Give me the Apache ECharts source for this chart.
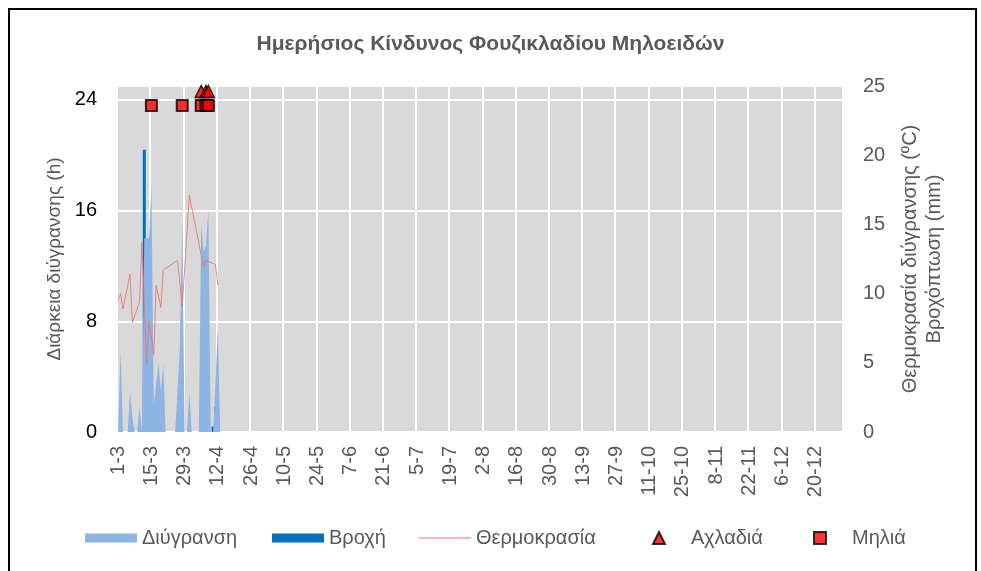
<!DOCTYPE html>
<html>
<head>
<meta charset="utf-8">
<script src="https://cdn.jsdelivr.net/npm/echarts@6/dist/echarts.min.js"></script>
<style>
  body { margin: 0; background: #fff; }
  #frame { position: absolute; left: 8px; top: 8px; width: 965px; height: 620px; border: 2px solid #000; }
  #main { position: absolute; left: 0; top: 0; width: 981px; height: 571px; }
</style>
</head>
<body>
<div id="frame"></div>
<div id="main"></div>
<script>
const FONT = '"Liberation Sans", Arial, sans-serif'

// ημέρες 1-3 έως 31-12
const monthDays = [31, 30, 31, 30, 31, 31, 30, 31, 30, 31]
const days = []
monthDays.forEach((n, i) => {
  for (let d = 1; d <= n; d++) days.push(d + '-' + (i + 3))
})

// Διύγρανση (h), από 1-3
const wetness = [0, 5.9, 0, 0, 0, 2.9, 1.0, 0, 0, 1.8,
  0, 14, 14, 14, 17.8, 2.0, 3.5, 5.0, 2.9, 4.9,
  0, 0, 0, 0, 0, 2.9, 6.1, 15.3, 0, 0,
  2.9, 0, 0, 0, 0, 15, 13, 13.5, 16, 0,
  0, 3.5, 7.7, 0]
// Βροχή (mm)
const rain = [0, 0, 0, 0, 0, 0, 0, 0, 0, 0,
  0, 20.4, 5.8, 0, 0, 0, 0, 0, 0, 0.3,
  0, 0, 0, 0, 0, 0, 0, 0, 0, 0,
  0.3, 0, 0, 0, 0, 0, 0, 0, 0, 0,
  0.4, 1.8]
// Θερμοκρασία (ºC)
const temp = [9.5, 10.0, 8.9, null, null, 11.4, 7.9, null, null, 9.4,
  13.7, null, 4.9, 8.0, null, 5.6, 10.6, null, 9.0, 11.7,
  null, null, null, null, null, 12.4, null, 9.1, null, null,
  17.1, null, null, null, null, null, 11.9, 12.4, null, null,
  null, 12.1, 10.6]
// κίνδυνος: ημέρα (index) και θέση
const pearDays = [35, 37, 38]
const pearLevel = 24.6
const appleDays = [14, 27, 35, 37, 38]
const appleLevel = 23.6

function pad(arr) {
  return days.map((d, i) => (i < arr.length ? arr[i] : null))
}
function marks(list, level) {
  return list.map(i => [days[i], level])
}
// ένα υπόμνημα για κάθε σειρά, για να μπουν στις θέσεις του excel
function legendItem(name, icon, left, w, h, gap) {
  return {
    left: left,
    top: 528,
    padding: 0,
    itemWidth: w,
    itemHeight: h,
    textStyle: { fontSize: 20, color: '#595959', fontFamily: FONT, padding: [0, 0, 0, gap || 0] },
    data: [{ name: name, icon: icon }]
  }
}

const chart = echarts.init(document.getElementById('main'))
const option = {
  animation: false,
  textStyle: { fontFamily: FONT },
  title: {
    text: 'Ημερήσιος Κίνδυνος Φουζικλαδίου Μηλοειδών',
    left: 'center',
    top: 29,
    textStyle: { fontSize: 21, fontWeight: 'bold', color: '#595959', fontFamily: FONT }
  },
  grid: {
    left: 117,
    right: 138,
    top: 86,
    bottom: 139,
    show: true,
    backgroundColor: '#D9D9D9',
    borderWidth: 0
  },
  legend: [
    legendItem('Διύγρανση', 'rect', 85, 52, 9),
    legendItem('Βροχή', 'rect', 272, 52, 9),
    legendItem('Θερμοκρασία', 'rect', 419, 52, 1.5),
    legendItem('Αχλαδιά', 'triangle', 652, 12, 12, 21),
    legendItem('Μηλιά', 'rect', 813, 12, 12, 21)
  ],
  xAxis: {
    type: 'category',
    data: days,
    boundaryGap: true,
    axisLine: { show: false },
    axisTick: { show: false, interval: 13 },
    axisLabel: { interval: 13, rotate: 90, fontSize: 20, color: '#595959', margin: 14 },
    splitLine: { show: true, interval: 13, lineStyle: { color: '#fff', width: 2 } }
  },
  yAxis: [
    {
      type: 'value',
      min: 0,
      max: 25,
      interval: 8,
      name: 'Διάρκεια διύγρανσης (h)',
      nameLocation: 'middle',
      nameGap: 44,
      nameTextStyle: { fontSize: 19, color: '#595959' },
      axisLabel: { fontSize: 20, color: '#000', margin: 20, showMaxLabel: false },
      axisLine: { show: false },
      axisTick: { show: false },
      splitLine: { lineStyle: { color: '#fff', width: 2 } }
    },
    {
      type: 'value',
      min: 0,
      max: 25,
      interval: 5,
      position: 'right',
      name: 'Θερμοκρασία διύγρανσης (ºC)\nΒροχόπτωση (mm)',
      nameLocation: 'middle',
      nameGap: 55,
      nameTextStyle: { fontSize: 20, color: '#595959', lineHeight: 24 },
      axisLabel: { fontSize: 20, color: '#595959', margin: 20 },
      axisLine: { show: false },
      axisTick: { show: false },
      splitLine: { show: false }
    }
  ],
  series: [
    {
      name: 'Διύγρανση',
      type: 'line',
      data: pad(wetness),
      color: '#8EB4E3',
      symbol: 'none',
      lineStyle: { width: 0 },
      areaStyle: { color: '#8EB4E3', opacity: 1 }
    },
    {
      name: 'Βροχή',
      type: 'bar',
      yAxisIndex: 1,
      data: pad(rain),
      color: '#0070C0',
      barWidth: 3
    },
    {
      name: 'Θερμοκρασία',
      type: 'line',
      yAxisIndex: 1,
      data: pad(temp),
      connectNulls: true,
      symbol: 'none',
      color: '#F4A0A0',
      lineStyle: { width: 1, color: '#EE7070', opacity: 0.85 }
    },
    {
      name: 'Αχλαδιά',
      type: 'scatter',
      data: marks(pearDays, pearLevel),
      symbol: 'triangle',
      symbolSize: 12,
      itemStyle: { color: '#FF0000', borderColor: '#000', borderWidth: 1.5 }
    },
    {
      name: 'Μηλιά',
      type: 'scatter',
      data: marks(appleDays, appleLevel),
      symbol: 'rect',
      symbolSize: 11,
      itemStyle: { color: '#FF0000', borderColor: '#000', borderWidth: 2 }
    }
  ]
}
chart.setOption(option)
</script>
</body>
</html>
